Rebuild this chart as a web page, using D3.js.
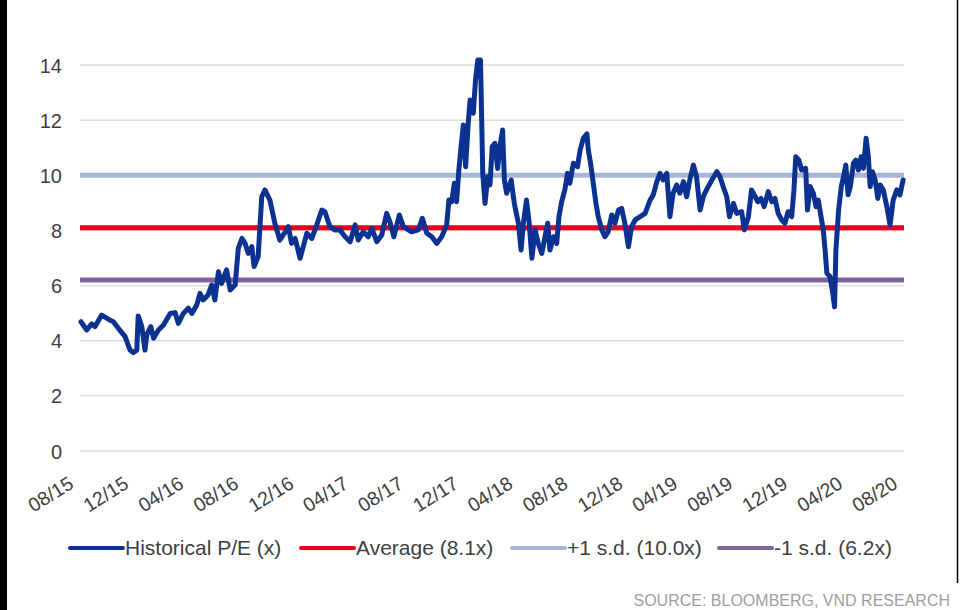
<!DOCTYPE html>
<html>
<head>
<meta charset="utf-8">
<script src="https://cdn.jsdelivr.net/npm/d3@7"></script>
<style>
  html, body { margin: 0; padding: 0; background: #fff; }
  svg { display: block; font-family: Arial, "Liberation Sans", sans-serif; }
</style>
</head>
<body>
<svg id="chart" width="966" height="610"></svg>
<script>
// ---------- data ----------
const peDates = [
"2015-08-03","2015-08-16","2015-08-27","2015-09-03","2015-09-18","2015-10-03","2015-10-14","2015-10-25","2015-11-09","2015-11-20",
"2015-11-27","2015-12-05","2015-12-08","2015-12-16","2015-12-23","2015-12-27","2016-01-05","2016-01-11","2016-01-22","2016-02-02",
"2016-02-17","2016-02-28","2016-03-06","2016-03-17","2016-03-28","2016-04-05","2016-04-16","2016-04-23","2016-04-30","2016-05-11",
"2016-05-19","2016-05-26","2016-06-03","2016-06-10","2016-06-21","2016-06-29","2016-07-10","2016-07-17","2016-07-25","2016-08-01",
"2016-08-08","2016-08-16","2016-08-21","2016-08-30","2016-09-07","2016-09-14","2016-09-25","2016-10-06","2016-10-17","2016-10-29",
"2016-11-05","2016-11-12","2016-11-20","2016-12-01","2016-12-08","2016-12-16","2016-12-27","2017-01-07","2017-01-18","2017-01-25",
"2017-02-05","2017-02-16","2017-02-27","2017-03-11","2017-03-22","2017-04-02","2017-04-09","2017-04-20","2017-05-01","2017-05-09",
"2017-05-20","2017-05-31","2017-06-11","2017-06-18","2017-06-27","2017-07-09","2017-07-18","2017-07-29","2017-08-05","2017-08-20",
"2017-08-29","2017-09-08","2017-09-19","2017-09-30","2017-10-11","2017-10-22","2017-10-27","2017-11-02","2017-11-08","2017-11-13",
"2017-11-18","2017-11-23","2017-11-28","2017-12-03","2017-12-09","2017-12-13","2017-12-20","2017-12-25","2017-12-30","2018-01-05",
"2018-01-10","2018-01-15","2018-01-21","2018-01-26","2018-01-31","2018-02-06","2018-02-12","2018-02-17","2018-02-23","2018-02-27",
"2018-03-04","2018-03-14","2018-03-21","2018-03-30","2018-04-05","2018-04-10","2018-04-17","2018-04-23","2018-04-29","2018-05-06",
"2018-05-13","2018-05-21","2018-05-28","2018-06-03","2018-06-08","2018-06-16","2018-06-23","2018-06-28","2018-07-04","2018-07-11",
"2018-07-17","2018-07-22","2018-07-30","2018-08-08","2018-08-14","2018-08-21","2018-08-29","2018-09-01","2018-09-06","2018-09-12",
"2018-09-18","2018-09-23","2018-10-01","2018-10-08","2018-10-15","2018-10-23","2018-10-30","2018-11-07","2018-11-14","2018-11-21",
"2018-11-29","2018-12-06","2018-12-14","2018-12-25","2019-01-05","2019-01-16","2019-01-23","2019-01-31","2019-02-07","2019-02-14",
"2019-02-22","2019-03-01","2019-03-08","2019-03-16","2019-03-23","2019-03-31","2019-04-07","2019-04-14","2019-04-22","2019-04-29",
"2019-05-07","2019-05-14","2019-05-21","2019-06-02","2019-06-13","2019-06-20","2019-06-27","2019-07-05","2019-07-11","2019-07-20",
"2019-07-27","2019-08-07","2019-08-13","2019-08-22","2019-08-29","2019-09-04","2019-09-12","2019-09-19","2019-09-26","2019-10-05",
"2019-10-13","2019-10-20","2019-10-27","2019-11-04","2019-11-11","2019-11-18","2019-11-26","2019-12-01","2019-12-05","2019-12-12",
"2019-12-18","2019-12-27","2019-12-31","2020-01-06","2020-01-13","2020-01-19","2020-01-24","2020-01-30","2020-02-04","2020-02-08",
"2020-02-12","2020-02-19","2020-02-24","2020-02-29","2020-03-03","2020-03-09","2020-03-15","2020-03-20","2020-03-25","2020-03-30",
"2020-04-04","2020-04-11","2020-04-16","2020-04-22","2020-04-28","2020-05-03","2020-05-09","2020-05-14","2020-05-18","2020-05-23",
"2020-05-29","2020-06-04","2020-06-09","2020-06-16","2020-06-24","2020-07-01","2020-07-08","2020-07-16","2020-07-23","2020-07-30"
];
const peValues = [
4.69,4.39,4.61,4.51,4.93,4.78,4.69,4.45,4.15,3.66,
3.57,3.66,4.90,4.51,3.66,4.21,4.51,4.09,4.39,4.57,
4.99,5.02,4.63,4.99,5.18,4.99,5.30,5.72,5.48,5.66,
6.02,5.48,6.50,6.08,6.57,5.84,6.02,7.35,7.71,7.53,
7.17,7.41,6.69,7.05,9.22,9.47,9.10,8.26,7.65,7.95,
8.14,7.53,7.71,6.99,7.41,7.90,7.71,8.20,8.74,8.68,
8.14,8.02,8.02,7.77,7.59,8.20,7.65,7.95,7.77,8.08,
7.59,7.83,8.62,8.32,7.77,8.56,8.14,8.02,7.95,8.02,
8.44,7.90,7.77,7.53,7.77,8.20,9.10,9.04,9.71,9.04,
10.19,11.04,11.82,10.31,11.94,12.73,12.25,13.46,14.18,14.18,
10.07,8.98,9.95,9.65,11.04,11.16,10.25,11.04,11.64,9.83,
9.35,9.83,8.98,8.26,7.29,8.26,9.10,8.26,6.99,8.02,
7.53,7.17,7.77,8.26,7.29,7.77,7.53,8.50,9.04,9.47,
10.07,9.71,10.44,10.31,10.92,11.34,11.50,10.92,10.44,9.71,
8.98,8.50,8.02,7.77,7.95,8.56,8.26,8.74,8.80,8.26,
7.41,8.14,8.38,8.50,8.62,9.10,9.29,9.77,10.07,9.83,
10.07,8.50,9.35,9.65,9.35,9.77,9.22,9.83,10.37,9.95,
8.74,9.22,9.47,9.83,10.13,9.95,9.59,9.22,8.50,8.98,
8.62,8.68,8.02,8.50,9.47,9.29,9.04,9.16,8.86,9.41,
9.04,9.16,8.62,8.38,8.26,8.68,8.50,9.47,10.67,10.55,
10.19,10.25,8.74,9.59,9.35,8.86,9.10,8.50,8.02,7.29,
6.45,6.32,5.84,5.23,7.29,8.74,9.59,9.95,10.37,9.29,
9.59,10.44,10.55,10.19,10.67,10.25,11.34,10.67,9.59,10.13,
9.83,9.16,9.65,9.47,8.86,8.20,9.10,9.47,9.29,9.83
];
const averagePE = 8.1;
const plusOneSD = 10.0;
const minusOneSD = 6.2;
const xTickLabels = ["08/15","12/15","04/16","08/16","12/16","04/17","08/17","12/17","04/18","08/18","12/18","04/19","08/19","12/19","04/20","08/20"];
const yTicks = [0,2,4,6,8,10,12,14];
const seriesNames = ["Historical P/E (x)","Average (8.1x)","+1 s.d. (10.0x)","-1 s.d. (6.2x)"];
const sourceText = "SOURCE: BLOOMBERG, VND RESEARCH";

// ---------- setup ----------
const svg = d3.select("#chart");
const parseDate = d3.timeParse("%Y-%m-%d");
const parseTick = d3.timeParse("%m/%y");
const data = peDates.map((d, i) => ({ date: parseDate(d), value: peValues[i] }));
const tickDates = xTickLabels.map(parseTick);

const plotLeft = 80, plotRight = 904, plotTop = 65, plotBottom = 451;
const x = d3.scaleTime().domain([tickDates[0], tickDates[tickDates.length - 1]]).range([plotLeft, plotRight]);
const y = d3.scaleLinear().domain([0, 14]).range([plotBottom, plotTop]);

const colors = { pe: "#0B3290", avg: "#E8001C", plus: "#A8B5DA", minus: "#8064A2" };

// frame
svg.append("rect").attr("x", 0).attr("y", 0).attr("width", 7).attr("height", 610).attr("fill", "#000");
svg.append("line").attr("x1", 957.5).attr("x2", 957.5).attr("y1", 0).attr("y2", 583)
  .attr("stroke", "#000").attr("stroke-width", 1.5);

// gridlines
svg.append("g").selectAll("line").data(yTicks).join("line")
  .attr("x1", plotLeft).attr("x2", plotRight)
  .attr("y1", d => y(d)).attr("y2", d => y(d))
  .attr("stroke", "#DEDEDE").attr("stroke-width", 1.5);

// y axis labels
const yAxis = d3.axisLeft(y).tickValues(yTicks).tickSize(0).tickPadding(0);
const yG = svg.append("g").attr("transform", "translate(62,0)").call(yAxis);
yG.select(".domain").remove();
yG.selectAll("text").attr("font-size", 20).attr("fill", "#404040")
  .attr("font-family", "Arial, 'Liberation Sans', sans-serif").attr("dy", "0.35em");

// x axis labels
const xAxis = d3.axisBottom(x).tickValues(tickDates).tickFormat((d, i) => xTickLabels[i]).tickSize(0).tickPadding(0);
const xG = svg.append("g").call(xAxis);
xG.select(".domain").remove();
xG.selectAll(".tick").attr("transform", d => `translate(${x(d) - 5},487)`);
xG.selectAll("text")
  .attr("font-size", 19.5).attr("fill", "#404040")
  .attr("font-family", "Arial, 'Liberation Sans', sans-serif")
  .attr("text-anchor", "end").attr("x", 0).attr("y", 0).attr("dy", 0)
  .attr("transform", "rotate(-32)");

// reference lines
const refs = [
  { v: minusOneSD, c: colors.minus },
  { v: plusOneSD, c: colors.plus },
  { v: averagePE, c: colors.avg }
];
svg.append("g").selectAll("line").data(refs).join("line")
  .attr("x1", plotLeft).attr("x2", plotRight)
  .attr("y1", d => y(d.v)).attr("y2", d => y(d.v))
  .attr("stroke", d => d.c).attr("stroke-width", 5);

// P/E line
const line = d3.line().x(d => x(d.date)).y(d => y(d.value));
svg.append("path").datum(data)
  .attr("d", line)
  .attr("fill", "none")
  .attr("stroke", colors.pe)
  .attr("stroke-width", 5)
  .attr("stroke-linejoin", "round")
  .attr("stroke-linecap", "round");

// legend
const legendItems = [
  { name: seriesNames[0], c: colors.pe, x0: 70 },
  { name: seriesNames[1], c: colors.avg, x0: 301 },
  { name: seriesNames[2], c: colors.plus, x0: 512 },
  { name: seriesNames[3], c: colors.minus, x0: 719 }
];
const lg = svg.append("g").selectAll("g").data(legendItems).join("g")
  .attr("transform", d => `translate(${d.x0},548)`);
lg.append("line").attr("x1", 0).attr("x2", 53).attr("y1", 0).attr("y2", 0)
  .attr("stroke", d => d.c).attr("stroke-width", 4).attr("stroke-linecap", "round");
lg.append("text").attr("x", 55).attr("y", 0).attr("dy", "0.35em")
  .attr("font-size", 21).attr("fill", "#404040")
  .text(d => d.name);

// source
svg.append("text").attr("x", 950).attr("y", 606).attr("text-anchor", "end")
  .attr("font-size", 16).attr("fill", "#A0A0A0").text(sourceText);
</script>
</body>
</html>
